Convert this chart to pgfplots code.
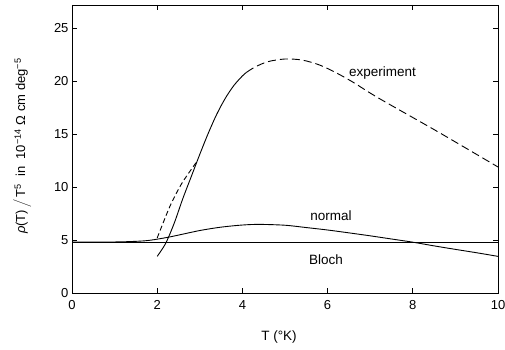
\documentclass[border=0pt]{standalone}
\usepackage{fontspec}
\setmainfont{Liberation Sans}
\usepackage{pgfplots}
\pgfplotsset{compat=1.18}
\begin{document}
\begin{tikzpicture}
\begin{axis}[
  scale only axis, width=426pt, height=288pt,
  xmin=0, xmax=10, ymin=0, ymax=27.2,
  xtick={0,2,...,10}, ytick={0,5,...,25},
  tick align=inside, major tick length=5pt,
  tick style={black, line width=0.8pt},
  axis line style={line width=0.9pt},
  ticklabel style={font=\fontsize{13}{15}\selectfont},
  xticklabel style={yshift=-4pt},
  /pgf/number format/assume math mode=true,
  xlabel={T (°K)},
  xlabel style={font=\fontsize{13.5}{15}\selectfont, at={(axis description cs:0.486,-0.153)}, anchor=center},
  ylabel={{\itshape ρ}(T)\,$\Big/$\,T\textsuperscript{5} \ in \ 10\textsuperscript{−14} Ω cm deg\textsuperscript{−5}},
  ylabel style={font=\fontsize{13}{15}\selectfont, at={(axis description cs:-0.117,0.51)}, anchor=center, rotate=0},
  clip=true,
]
% Bloch
\addplot[black, line width=0.9pt] coordinates {(0,4.8) (10,4.8)};
% normal
\addplot[black, line width=0.9pt, smooth] coordinates {
(0,4.8) (1,4.82) (1.5,4.88) (1.83,4.98) (2.3,5.3) (3.0,5.9) (3.5,6.22) (4.0,6.42) (4.4,6.48) (5.0,6.4) (5.5,6.18) (6.0,5.95) (6.5,5.68) (7.0,5.4) (7.5,5.1) (8.0,4.8) (8.5,4.45) (9.0,4.12) (9.5,3.8) (10,3.46)};
% experiment solid
\addplot[black, line width=0.9pt, smooth] coordinates {
(2.0,3.46) (2.2,4.7) (2.4,6.6) (2.6,8.9) (2.8,11.0) (3.0,13.1) (3.2,15.1) (3.4,16.9) (3.6,18.4) (3.8,19.6) (4.0,20.5) (4.1,20.85)};
% experiment dashed upper
\addplot[black, line width=0.9pt, smooth, dash pattern=on 8pt off 4pt] coordinates {
(4.1,20.85) (4.3,21.35) (4.6,21.85) (5.0,22.1) (5.4,22.0) (5.8,21.55) (6.2,20.8) (6.6,19.9) (7.2,18.4) (8.6,15.2) (10,11.9)};
% experiment dashed lower
\addplot[black, line width=0.9pt, smooth, dash pattern=on 5pt off 3pt] coordinates {
(2.0,5.2) (2.30,8.2) (2.57,10.3) (2.84,11.9) (2.92,12.35)};
\node[font=\fontsize{13.5}{15}\selectfont] at (axis cs:7.29,20.8) {experiment};
\node[font=\fontsize{13.5}{15}\selectfont] at (axis cs:6.08,7.3) {normal};
\node[font=\fontsize{13.5}{15}\selectfont] at (axis cs:5.96,3.15) {Bloch};
\end{axis}
\pgfresetboundingbox
\path[use as bounding box] ([xshift=-72pt,yshift=-57pt]current axis.south west) rectangle ([xshift=7pt,yshift=5pt]current axis.north east);
\end{tikzpicture}
\end{document}
